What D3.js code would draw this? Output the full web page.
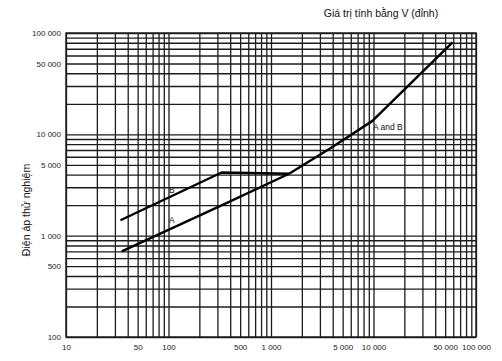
<!DOCTYPE html>
<html>
<head>
<meta charset="utf-8">
<script src="https://cdn.jsdelivr.net/npm/d3@7"></script>
<style>
  html, body { margin: 0; padding: 0; background: #fff; }
  svg { display: block; font-family: "Liberation Sans", Arial, sans-serif; }
</style>
</head>
<body>
<svg id="chart" width="502" height="361"></svg>
<script>
// ---- data ----
const xTickValues = [10, 50, 100, 500, 1000, 5000, 10000, 50000, 100000];
const xTickLabels = ["10", "50", "100", "500", "1 000", "5 000", "10 000", "50 000", "100 000"];
const yTickValues = [100, 500, 1000, 5000, 10000, 50000, 100000];
const yTickLabels = ["100", "500", "1 000", "5 000", "10 000", "50 000", "100 000"];

const curveAX = [35, 350, 1500, 3800, 9700, 59000];
const curveAY = [700, 2050, 4080, 7300, 13500, 81000];
const curveBX = [34, 330, 1500];
const curveBY = [1420, 4200, 4080];

const titleText = "Giá trị tính bằng V (đỉnh)";
const yAxisTitle = "Điện áp thử nghiệm";

// ---- layout ----
const svg = d3.select("#chart");
const L = 66, R = 476, T = 33, B = 337;

const x = d3.scaleLog().domain([10, 100000]).range([L, R]);
const y = d3.scaleLog().domain([100, 100000]).range([B, T]);

// grid values: 1..9 per decade
const gridX = [];
for (let d = 10; d < 100000; d *= 10) for (let m = 1; m < 10; m++) gridX.push(d * m);
gridX.push(100000);
const gridY = [];
for (let d = 100; d < 100000; d *= 10) for (let m = 1; m < 10; m++) gridY.push(d * m);
gridY.push(100000);

const gridColor = "#1c1c1c";

// vertical grid via axis
svg.append("g")
  .attr("transform", `translate(0,${B})`)
  .call(d3.axisBottom(x).tickValues(gridX).tickSize(-(B - T)).tickFormat(""))
  .call(g => g.select(".domain").remove())
  .call(g => g.selectAll("line").attr("stroke", gridColor).attr("stroke-width", 1.3));

// horizontal grid via axis
svg.append("g")
  .attr("transform", `translate(${L},0)`)
  .call(d3.axisLeft(y).tickValues(gridY).tickSize(-(R - L)).tickFormat(""))
  .call(g => g.select(".domain").remove())
  .call(g => g.selectAll("line").attr("stroke", gridColor).attr("stroke-width", 1.4));

// frame
svg.append("rect")
  .attr("x", L).attr("y", T).attr("width", R - L).attr("height", B - T)
  .attr("fill", "none").attr("stroke", gridColor).attr("stroke-width", 1.4);

// x labels
svg.append("g")
  .attr("transform", `translate(0,${B})`)
  .call(d3.axisBottom(x).tickValues(xTickValues).tickSize(0).tickPadding(7)
    .tickFormat((d, i) => xTickLabels[i]))
  .call(g => g.select(".domain").remove())
  .call(g => g.selectAll("text").attr("font-size", 8).attr("fill", "#222")
    .attr("font-family", "Liberation Sans, Arial, sans-serif"));

// y labels
svg.append("g")
  .attr("transform", `translate(${L},0)`)
  .call(d3.axisLeft(y).tickValues(yTickValues).tickSize(0).tickPadding(5)
    .tickFormat((d, i) => yTickLabels[i]))
  .call(g => g.select(".domain").remove())
  .call(g => g.selectAll("text").attr("font-size", 8).attr("fill", "#222")
    .attr("font-family", "Liberation Sans, Arial, sans-serif"));

// curves
const line = d3.line().x(d => x(d[0])).y(d => y(d[1]));
const ptsA = curveAX.map((v, i) => [v, curveAY[i]]);
const ptsB = curveBX.map((v, i) => [v, curveBY[i]]);

svg.append("path").datum(ptsA).attr("d", line)
  .attr("fill", "none").attr("stroke", "#000").attr("stroke-width", 2.4)
  .attr("stroke-linejoin", "round");
svg.append("path").datum(ptsB).attr("d", line)
  .attr("fill", "none").attr("stroke", "#000").attr("stroke-width", 2.4)
  .attr("stroke-linejoin", "round");

// curve labels
const lbl = (txt, px, py) => svg.append("text").attr("x", px).attr("y", py)
  .attr("font-size", 8.5).attr("fill", "#111").attr("dominant-baseline", "middle")
  .text(txt);
lbl("B", 169, 191);
lbl("A", 169, 221);
lbl("A and B", 373, 128);

// titles
svg.append("text").attr("x", 381).attr("y", 14)
  .attr("text-anchor", "middle").attr("dominant-baseline", "middle")
  .attr("font-size", 10.5).attr("fill", "#111").text(titleText);

svg.append("text")
  .attr("transform", `translate(27,210) rotate(-90)`)
  .attr("text-anchor", "middle").attr("dominant-baseline", "middle")
  .attr("font-size", 10.5).attr("fill", "#111").text(yAxisTitle);
</script>
</body>
</html>
